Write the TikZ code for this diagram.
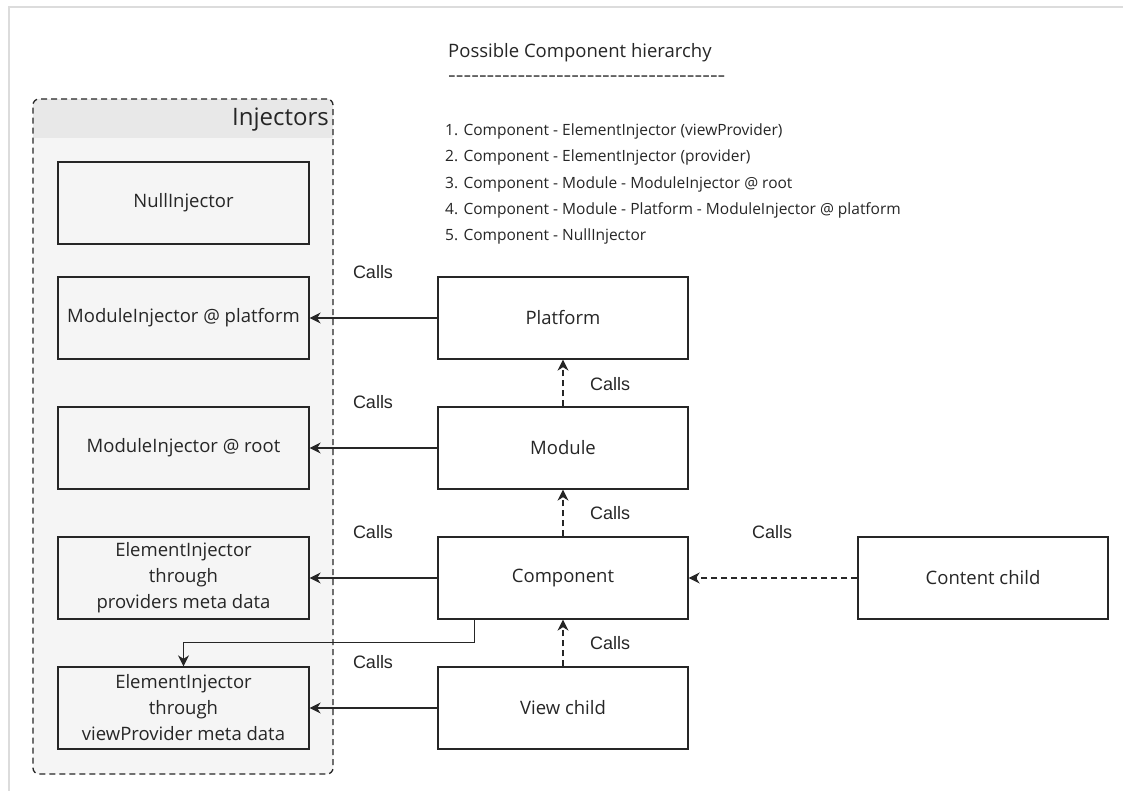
\documentclass[tikz,border=0pt]{standalone}
\usepackage{fontspec}
\setmainfont{Open Sans}
\newfontfamily\callsfont{Liberation Sans}
\usetikzlibrary{arrows.meta}
\definecolor{ink}{HTML}{262626}
\definecolor{bodyfill}{HTML}{F5F5F5}
\definecolor{hdrfill}{HTML}{E8E8E8}
\definecolor{framecol}{HTML}{DCDCDC}
\newcommand\boxfont{\fontsize{18.5}{26}\selectfont}
\newcommand\listfont{\fontsize{15.5}{20}\selectfont}
\newcommand\hyphenrow{\foreach \i in {1,...,36}{-\kern0pt}}
\tikzset{
  x=1pt, y=-1pt,
  box/.style={draw=ink, line width=1.3pt, fill=white, minimum width=250pt, minimum height=82pt,
    inner sep=0pt, align=center, font=\boxfont, text=ink},
  ibox/.style={box, fill=none, minimum width=251pt},
  lbl/.style={font=\callsfont\fontsize{18}{20}\selectfont, text=ink, inner sep=0pt},
  listline/.style={anchor=west, font=\listfont, text=ink, inner sep=0pt},
  conn/.style={draw=ink, line width=1.3pt, -{Stealth[length=11pt,width=11pt,inset=3.5pt]}},
  dconn/.style={conn, dash pattern=on 6pt off 4pt},
}
\begin{document}
\begin{tikzpicture}
\useasboundingbox (0,0) rectangle (1123,791);
\fill[white] (0,0) rectangle (1123,791);
% outer frame
\draw[framecol, line width=2pt] (9,791) -- (9,7) -- (1123,7);

% Injectors container
\fill[bodyfill, rounded corners=6pt] (33,99) rectangle (333,774);
\begin{scope}
  \clip[rounded corners=6pt] (33,99) rectangle (333,774);
  \fill[hdrfill] (33,99) rectangle (333,138);
\end{scope}
\node[draw=ink, line width=1.3pt, dash pattern=on 6pt off 4pt, rounded corners=6pt,
  minimum width=300pt, minimum height=675pt, inner sep=0pt] (inj) at (183,436.5) {};
\node[anchor=east, font=\fontsize{24}{26}\selectfont, text=ink, inner sep=0pt] (injt) at (329,120) {Injectors};

% Title and list
\node[anchor=west, font=\boxfont, text=ink, inner sep=0pt] (title) at (448,53) {Possible Component hierarchy};
\node[anchor=west, font=\boxfont, text=ink, inner sep=0pt] (rule) at (448,79) {\resizebox{277pt}{\height}{\hyphenrow}};
\node[listline] (l1) at (445,131) {1. Component - ElementInjector (viewProvider)};
\node[listline] (l2) at (445,157) {2. Component - ElementInjector (provider)};
\node[listline] (l3) at (445,184) {3. Component - Module - ModuleInjector @ root};
\node[listline] (l4) at (445,210) {4. Component - Module - Platform - ModuleInjector @ platform};
\node[listline] (l5) at (445,236) {5. Component - NullInjector};

% Injector boxes
\node[ibox] (nul) at (183.5,203) {NullInjector};
\node[ibox] (mip) at (183.5,318) {ModuleInjector @ platform};
\node[ibox] (mir) at (183.5,448) {ModuleInjector @ root};
\node[ibox] (eip) at (183.5,578) {ElementInjector\\through\\providers meta data};
\node[ibox] (eiv) at (183.5,708) {ElementInjector\\through\\viewProvider meta data};

% Right column
\node[box] (plat) at (563,318) {Platform};
\node[box] (mod) at (563,448) {Module};
\node[box] (comp) at (563,578) {Component};
\node[box] (view) at (563,708) {View child};
\node[box] (cont) at (983,578) {Content child};

% Connectors
\draw[conn] (plat.west) -- (mip.east);
\draw[conn] (mod.west) -- (mir.east);
\draw[conn] (comp.west) -- (eip.east);
\draw[conn] (view.west) -- (eiv.east);
\draw[conn] ([xshift=37pt]comp.south west) -- ++(0,23) -| (eiv.north);
\draw[dconn] (mod.north) -- (plat.south);
\draw[dconn] (comp.north) -- (mod.south);
\draw[dconn] (view.north) -- (comp.south);
\draw[dconn] (cont.west) -- (comp.east);

% Calls labels
\node[lbl] (c1) at (373,272) {Calls};
\node[lbl] (c2) at (373,402) {Calls};
\node[lbl] (c3) at (373,532) {Calls};
\node[lbl] (c4) at (373,662) {Calls};
\node[lbl] (c5) at (610,384) {Calls};
\node[lbl] (c6) at (610,513) {Calls};
\node[lbl] (c7) at (610,643) {Calls};
\node[lbl] (c8) at (772,532) {Calls};
\end{tikzpicture}
\end{document}
